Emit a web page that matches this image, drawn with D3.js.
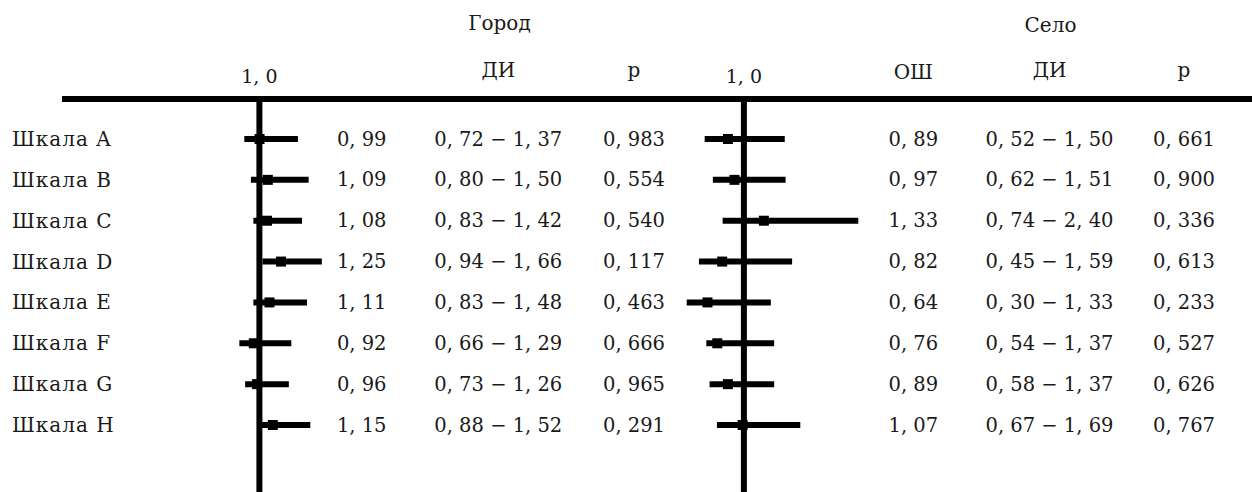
<!DOCTYPE html>
<html>
<head>
<meta charset="utf-8">
<script src="https://cdn.jsdelivr.net/npm/d3@7"></script>
<style>
  html, body { margin: 0; padding: 0; background: #fff; }
  svg { display: block; }
</style>
</head>
<body>
<script>
// ---- data ----
const categories = ["Шкала A", "Шкала B", "Шкала C", "Шкала D", "Шкала E", "Шкала F", "Шкала G", "Шкала H"];
const cityOR = [0.99, 1.09, 1.08, 1.25, 1.11, 0.92, 0.96, 1.15];
const cityLo = [0.72, 0.80, 0.83, 0.94, 0.83, 0.66, 0.73, 0.88];
const cityHi = [1.37, 1.50, 1.42, 1.66, 1.48, 1.29, 1.26, 1.52];
const cityP = [0.983, 0.554, 0.540, 0.117, 0.463, 0.666, 0.965, 0.291];
const villageOR = [0.89, 0.97, 1.33, 0.82, 0.64, 0.76, 0.89, 1.07];
const villageLo = [0.52, 0.62, 0.74, 0.45, 0.30, 0.54, 0.58, 0.67];
const villageHi = [1.50, 1.51, 2.40, 1.59, 1.33, 1.37, 1.37, 1.69];
const villageP = [0.661, 0.900, 0.336, 0.613, 0.233, 0.527, 0.626, 0.767];
const groupTitles = ["Город", "Село"];
const refTick = 1.0;

// ---- layout ----
const W = 1252, H = 492;
const FS = 19.5, FS_HEAD = 20, FS_LABEL = 20;
const FONT = "'DejaVu Serif', serif";
const svg = d3.select("body").append("svg").attr("width", W).attr("height", H);

const y = d3.scalePoint().domain(categories).range([139, 425]);
const fmt = (v, d) => v.toFixed(d).replace(".", ", ");

const panels = [
  { title: groupTitles[0], or: cityOR, lo: cityLo, hi: cityHi, p: cityP,
    x: d3.scaleLinear().domain([0.5, 2.5]).range([226.15, 391.15]),
    refShift: -8, orHeader: false, colOR: 361.7, colCI: 498.3, colP: 634, titleX: 499.5, titleY: 30 },
  { title: groupTitles[1], or: villageOR, lo: villageLo, hi: villageHi, p: villageP,
    x: d3.scaleLinear().domain([0.3, 2.4]).range([686.7, 858.3]),
    refShift: 0, orHeader: true, colOR: 913.3, colCI: 1049.5, colP: 1184, titleX: 1050.5, titleY: 31.5 }
];
const markerShift = -7, markerSize = 10, barW = 6, lineW = 6;
const ruleY = 99;

function txt(sel, size) {
  return sel.attr("font-family", FONT).attr("font-size", size || FS).attr("fill", "#1a1a1a");
}

svg.append("line").attr("x1", 62).attr("x2", W).attr("y1", ruleY).attr("y2", ruleY)
  .attr("stroke", "#000").attr("stroke-width", lineW);

svg.append("g").selectAll("text").data(categories).join("text")
  .call(txt, FS_LABEL).attr("letter-spacing", 1)
  .attr("x", 12).attr("y", d => y(d) + 7).text(d => d);

panels.forEach(P => {
  const g = svg.append("g");
  const refX = P.x(refTick) + P.refShift;
  g.append("line").attr("x1", refX).attr("x2", refX).attr("y1", ruleY).attr("y2", H)
    .attr("stroke", "#000").attr("stroke-width", lineW);
  g.append("text").call(txt, 19).attr("x", refX).attr("y", 83).attr("text-anchor", "middle")
    .text(fmt(refTick, 1));
  g.append("text").call(txt, FS_HEAD).attr("x", P.titleX).attr("y", P.titleY).attr("text-anchor", "middle")
    .text(P.title);
  if (P.orHeader) g.append("text").call(txt, FS_HEAD).attr("x", P.colOR).attr("y", 79).attr("text-anchor", "middle")
    .text("ОШ");
  g.append("text").call(txt, FS_HEAD).attr("x", P.colCI).attr("y", 77).attr("text-anchor", "middle").text("ДИ");
  g.append("text").call(txt, FS_HEAD).attr("x", P.colP).attr("y", 77).attr("text-anchor", "middle").text("p");

  const rows = categories.map((c, i) => ({ c, or: P.or[i], lo: P.lo[i], hi: P.hi[i], p: P.p[i] }));
  g.append("g").selectAll("line").data(rows).join("line")
    .attr("x1", d => P.x(d.lo)).attr("x2", d => P.x(d.hi))
    .attr("y1", d => y(d.c)).attr("y2", d => y(d.c))
    .attr("stroke", "#000").attr("stroke-width", barW);
  g.append("g").selectAll("rect").data(rows).join("rect")
    .attr("x", d => P.x(d.or) + markerShift - markerSize / 2)
    .attr("y", d => y(d.c) - markerSize / 2)
    .attr("width", markerSize).attr("height", markerSize).attr("fill", "#000");
  const t = g.append("g");
  t.selectAll("text.or").data(rows).join("text").attr("class", "or").call(txt)
    .attr("text-anchor", "middle")
    .attr("x", P.colOR).attr("y", d => y(d.c) + 6.5).text(d => fmt(d.or, 2));
  t.selectAll("text.ci").data(rows).join("text").attr("class", "ci").call(txt)
    .attr("text-anchor", "middle")
    .attr("x", P.colCI).attr("y", d => y(d.c) + 6.5).text(d => fmt(d.lo, 2) + " − " + fmt(d.hi, 2));
  t.selectAll("text.p").data(rows).join("text").attr("class", "p").call(txt)
    .attr("text-anchor", "middle")
    .attr("x", P.colP).attr("y", d => y(d.c) + 6.5).text(d => fmt(d.p, 3));
});
</script>
</body>
</html>
